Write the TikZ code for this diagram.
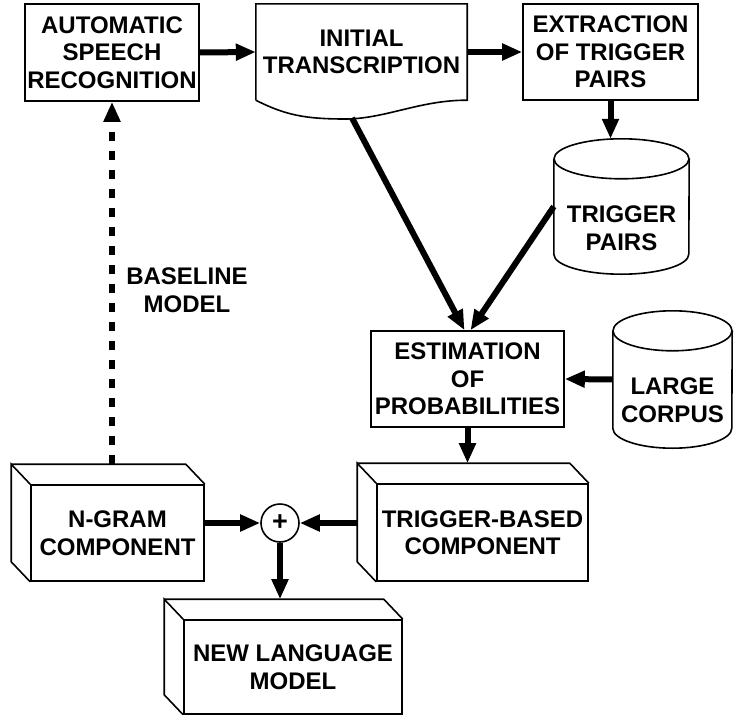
\documentclass[tikz,border=0pt]{standalone}
\usepackage{fontspec}
\setmainfont{Liberation Sans}
\usepackage{tikz}
\usetikzlibrary{arrows.meta}

\newcommand{\slab}[1]{%
\draw[edge] (#1.north west) -- ++(-19,-20) coordinate (#1-b) -- ([shift={(-19,-20)}]#1.south west) -- (#1.south west);
\draw[edge] (#1-b) -- ([shift={(-19,-20)}]#1.north east) -- (#1.north east);}

\newcommand{\drum}[2]{%
\draw[edge] ([yshift=-20pt]#1.north) ellipse [x radius=#2, y radius=20pt];
\draw[edge] ([yshift=-20pt]#1.north west) -- ([yshift=20pt]#1.south west)
 arc [start angle=180, end angle=360, x radius=#2, y radius=20pt] -- ([yshift=-20pt]#1.north east);}

\begin{document}
\begin{tikzpicture}[x=1pt,y=-1pt,
 edge/.style={line width=1.6pt},
 lbl/.style={align=center, inner sep=2pt, font=\fontsize{24pt}{27.5pt}\selectfont\bfseries},
 box/.style={lbl, draw, edge},
 arrow/.style={line width=6pt, -{Triangle[length=20pt,width=16pt]}}]
\useasboundingbox (0,0) rectangle (734,715);
\node[box, minimum width=174pt, minimum height=97pt] (asr) at (112,52.5) {AUTOMATIC\\SPEECH\\RECOGNITION};
\node[lbl, minimum width=211pt, minimum height=96pt] (trans) at (361.5,52) {INITIAL\\TRANSCRIPTION};
\node[box, minimum width=175pt, minimum height=96pt] (extract) at (610.5,52) {EXTRACTION\\OF TRIGGER\\PAIRS};
\node[lbl, minimum width=135pt, minimum height=135pt] (tpairs) at (621.5,206.5) {};
\node[lbl] (tpairs-t) at (621.5,228) {TRIGGER\\PAIRS};
\node[box, minimum width=193pt, minimum height=96pt] (estim) at (467.5,379) {ESTIMATION\\OF\\PROBABILITIES};
\node[lbl, minimum width=119pt, minimum height=137pt] (corpus) at (672.5,379.5) {};
\node[lbl] (corpus-t) at (672.5,400) {LARGE\\CORPUS};
\node[box, minimum width=173pt, minimum height=96pt] (ngram) at (117.5,533) {N-GRAM\\COMPONENT};
\node[box, minimum width=211pt, minimum height=97pt] (tbased) at (482.5,532.5) {TRIGGER-BASED\\COMPONENT};
\node[box, minimum width=218pt, minimum height=94pt] (newlm) at (293,667) {NEW LANGUAGE\\MODEL};
\node[box, circle, minimum size=38pt, inner sep=0pt, font=\fontsize{27pt}{27pt}\selectfont\bfseries] (sum) at (280,523) {+};
\node[lbl] (baseline) at (187,290) {BASELINE\\MODEL};
\draw[edge] (trans.south west) -- (trans.north west) -- (trans.north east) -- (trans.south east)
 .. controls (420,100) and (385,119) .. (345,119) .. controls (305,119) and (285,115) .. (trans.south west);
\coordinate (trans-b) at (352,118);
\drum{tpairs}{67.5pt}
\drum{corpus}{59.5pt}
\slab{ngram}
\slab{tbased}
\slab{newlm}
\draw[arrow] (asr.east) -- (trans.west);
\draw[arrow] (trans.east) -- (extract.west);
\draw[arrow] (extract.south) -- (extract.south |- tpairs.north);
\draw[arrow] (trans-b) -- ([xshift=-3pt]estim.north);
\draw[arrow] (tpairs.west) -- ([xshift=3pt]estim.north);
\draw[arrow] (corpus.west) -- (estim.east);
\draw[arrow] (estim.south) -- (estim.south |- tbased-b);
\draw[arrow] (ngram.east |- sum) -- (sum.west);
\draw[arrow] (tbased-b |- sum) -- (sum.east);
\draw[arrow] (sum.south) -- (sum.south |- newlm-b);
\draw[arrow, dash pattern=on 9pt off 10pt] (asr.south |- ngram-b) -- (asr.south);
\end{tikzpicture}
\end{document}
